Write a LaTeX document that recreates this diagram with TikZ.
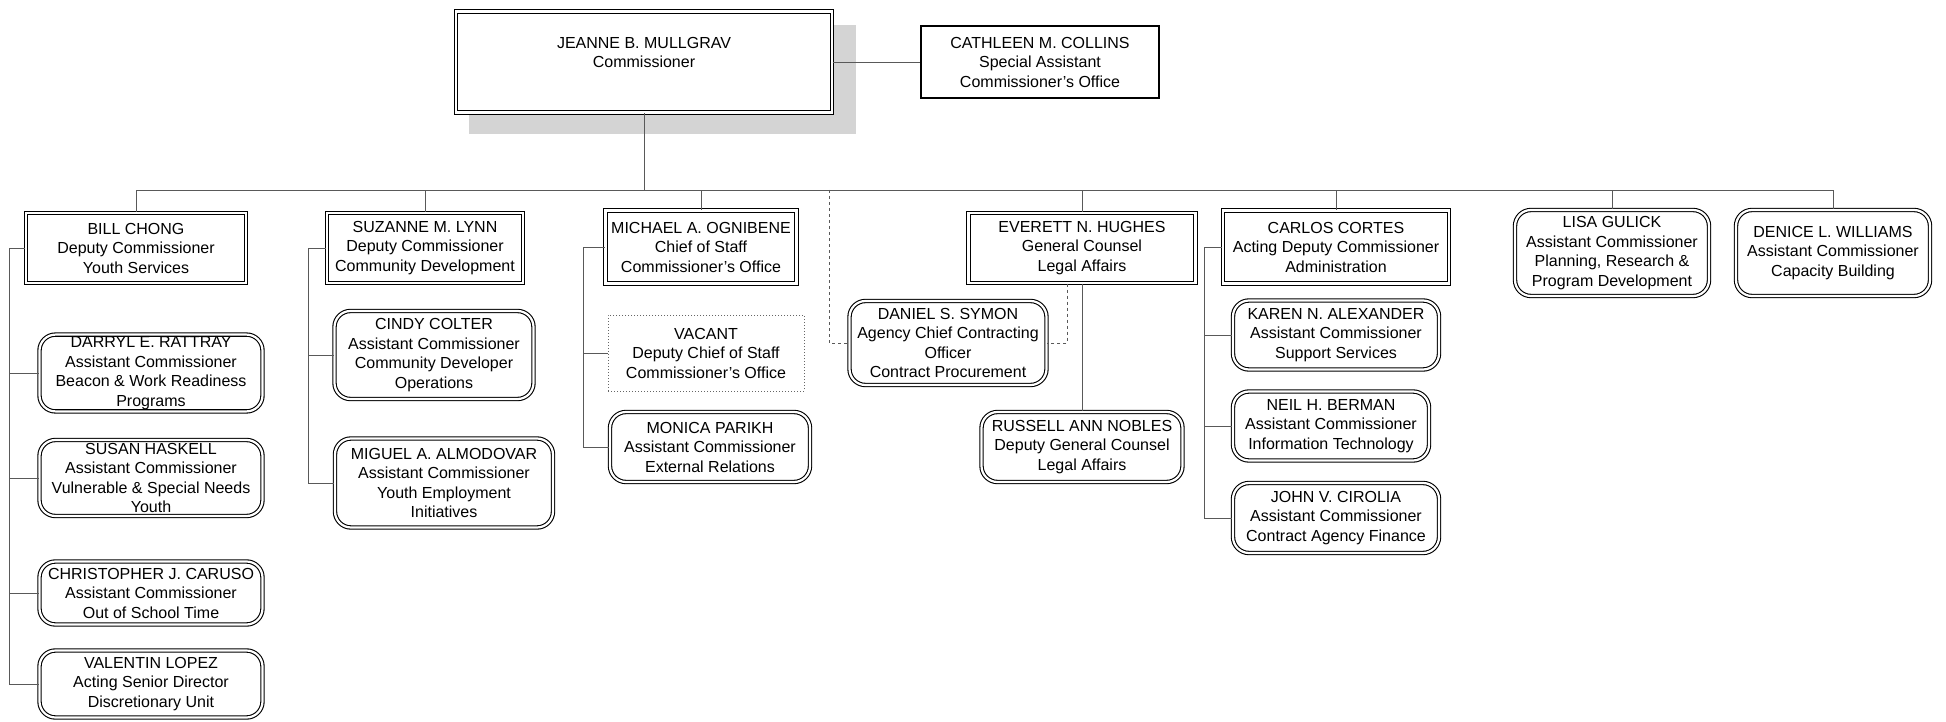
\documentclass[tikz,border=0pt]{standalone}
\usepackage{fontspec}
\setmainfont{Liberation Sans}
\usepackage{tikz}
\usetikzlibrary{positioning}

\begin{document}
\begin{tikzpicture}[
  x=1pt,
  y=-1pt,
  every node/.style={
    align=center,
    inner sep=2pt,
    font=\fontsize{16}{19.5}\selectfont
  },
  head/.style={
    rectangle,
    draw,
    fill=white,
    line width=1.2pt,
    double,
    double distance=2.5pt
  },
  aide/.style={
    rectangle,
    draw,
    fill=white,
    line width=2pt
  },
  deputy/.style={
    rectangle,
    draw,
    fill=white,
    line width=1.1pt,
    double,
    double distance=2.4pt
  },
  assistant/.style={
    rectangle,
    rounded corners=16pt,
    draw,
    fill=white,
    line width=1.1pt,
    double,
    double distance=2.2pt
  },
  vacancy/.style={
    rectangle,
    draw=black!60,
    dotted,
    line width=1pt
  },
  branch/.style={
    draw=black!65,
    line width=0.8pt
  },
  offline/.style={
    draw=black!65,
    line width=0.8pt,
    dashed
  },
  backdrop/.style={
    fill=black!17
  }
]

\useasboundingbox (0,0) rectangle (1946,722);

% Commissioner and shadow
\fill[backdrop] (469,25) rectangle (856,134);
\node[head, minimum width=376pt, minimum height=101pt] (mullgrav) at (644,62) {JEANNE B. MULLGRAV\\Commissioner\\ \mbox{}};
\node[aide, minimum width=238pt, minimum height=72pt] (collins) at (1040,62) {CATHLEEN M. COLLINS\\Special Assistant\\Commissioner's Office};

% Row 1, left to right
\node[deputy, minimum width=220pt, minimum height=70pt] (chong)    at (136,248)  {BILL CHONG\\Deputy Commissioner\\Youth Services};
\node[deputy, minimum width=196pt, minimum height=70pt] (lynn)     at (425,248)  {SUZANNE M. LYNN\\Deputy Commissioner\\Community Development};
\node[deputy, minimum width=191pt, minimum height=73pt] (ognibene) at (701,247)  {MICHAEL A. OGNIBENE\\Chief of Staff\\Commissioner's Office};
\node[deputy, minimum width=227pt, minimum height=70pt] (hughes)   at (1082,248) {EVERETT N. HUGHES\\General Counsel\\Legal Affairs};
\node[deputy, minimum width=226pt, minimum height=73pt] (cortes)   at (1336,247) {CARLOS CORTES\\Acting Deputy Commissioner\\Administration};
\node[assistant, minimum width=194pt, minimum height=86pt] (gulick)   at (1612,253) {LISA GULICK\\Assistant Commissioner\\Planning, Research \&\\Program Development};
\node[assistant, minimum width=194pt, minimum height=86pt] (williams) at (1833,253) {DENICE L. WILLIAMS\\Assistant Commissioner\\Capacity Building};

% Youth Services
\node[assistant, minimum width=223pt, minimum height=76pt] (rattray) at (151,373) {DARRYL E. RATTRAY\\Assistant Commissioner\\Beacon \& Work Readiness\\Programs};
\node[assistant, minimum width=223pt, minimum height=76pt] (haskell) at (151,478) {SUSAN HASKELL\\Assistant Commissioner\\Vulnerable \& Special Needs\\Youth};
\node[assistant, minimum width=223pt, minimum height=63pt] (caruso)  at (151,593) {CHRISTOPHER J. CARUSO\\Assistant Commissioner\\Out of School Time};
\node[assistant, minimum width=223pt, minimum height=67pt] (lopez)   at (151,684) {VALENTIN LOPEZ\\Acting Senior Director\\Discretionary Unit};

% Community Development
\node[assistant, minimum width=199pt, minimum height=88pt] (colter)    at (434,355) {CINDY COLTER\\Assistant Commissioner\\Community Developer\\Operations};
\node[assistant, minimum width=218pt, minimum height=89pt] (almodovar) at (444,483) {MIGUEL A. ALMODOVAR\\Assistant Commissioner\\Youth Employment\\Initiatives};

% Commissioner's Office
\node[vacancy, minimum width=196pt, minimum height=76pt]   (vacant) at (706,353) {VACANT\\Deputy Chief of Staff\\Commissioner's Office};
\node[assistant, minimum width=200pt, minimum height=70pt] (parikh) at (710,447) {MONICA PARIKH\\Assistant Commissioner\\External Relations};

% Legal Affairs
\node[assistant, minimum width=197pt, minimum height=84pt] (symon)  at (948,343)  {DANIEL S. SYMON\\Agency Chief Contracting\\Officer\\Contract Procurement};
\node[assistant, minimum width=201pt, minimum height=70pt] (nobles) at (1082,447) {RUSSELL ANN NOBLES\\Deputy General Counsel\\Legal Affairs};

% Administration
\node[assistant, minimum width=206pt, minimum height=69pt] (alexander) at (1336,335) {KAREN N. ALEXANDER\\Assistant Commissioner\\Support Services};
\node[assistant, minimum width=196pt, minimum height=69pt] (berman)    at (1331,426) {NEIL H. BERMAN\\Assistant Commissioner\\Information Technology};
\node[assistant, minimum width=206pt, minimum height=70pt] (cirolia)   at (1336,518) {JOHN V. CIROLIA\\Assistant Commissioner\\Contract Agency Finance};

% Rails
\coordinate (bus)        at (644,190);
\coordinate (chongrail)  at (9,248);
\coordinate (lynnrail)   at (308,248);
\coordinate (ognirail)   at (583,247);
\coordinate (symonrail)  at (829,190);
\coordinate (cortesrail) at (1204,247);

% Top of the chart
\draw[branch] (mullgrav.east) -- (collins.west);
\draw[branch] (mullgrav.south) -- (bus);
\draw[branch] (bus) -| (chong.north);
\draw[branch] (bus) -| (lynn.north);
\draw[branch] (bus) -| (ognibene.north);
\draw[branch] (bus) -| (hughes.north);
\draw[branch] (bus) -| (cortes.north);
\draw[branch] (bus) -| (gulick.north);
\draw[branch] (bus) -| (williams.north);

% Youth Services
\draw[branch] (chong.west) -- (chongrail) |- (lopez.west);
\draw[branch] (rattray.west) -- (rattray.west -| chongrail);
\draw[branch] (haskell.west) -- (haskell.west -| chongrail);
\draw[branch] (caruso.west) -- (caruso.west -| chongrail);

% Community Development
\draw[branch] (lynn.west) -- (lynnrail) |- (almodovar.west);
\draw[branch] (colter.west) -- (colter.west -| lynnrail);

% Commissioner's Office
\draw[branch] (ognibene.west) -- (ognirail) |- (parikh.west);
\draw[branch] (vacant.west) -- (vacant.west -| ognirail);

% Legal Affairs
\draw[offline] (symonrail) |- (symon.west);
\draw[offline] ([xshift=-15pt]hughes.south) |- (symon.east);
\draw[branch] (hughes.south) -- (nobles.north);

% Administration
\draw[branch] (cortes.west) -- (cortesrail) |- (cirolia.west);
\draw[branch] (alexander.west) -- (alexander.west -| cortesrail);
\draw[branch] (berman.west) -- (berman.west -| cortesrail);

\end{tikzpicture}
\end{document}
